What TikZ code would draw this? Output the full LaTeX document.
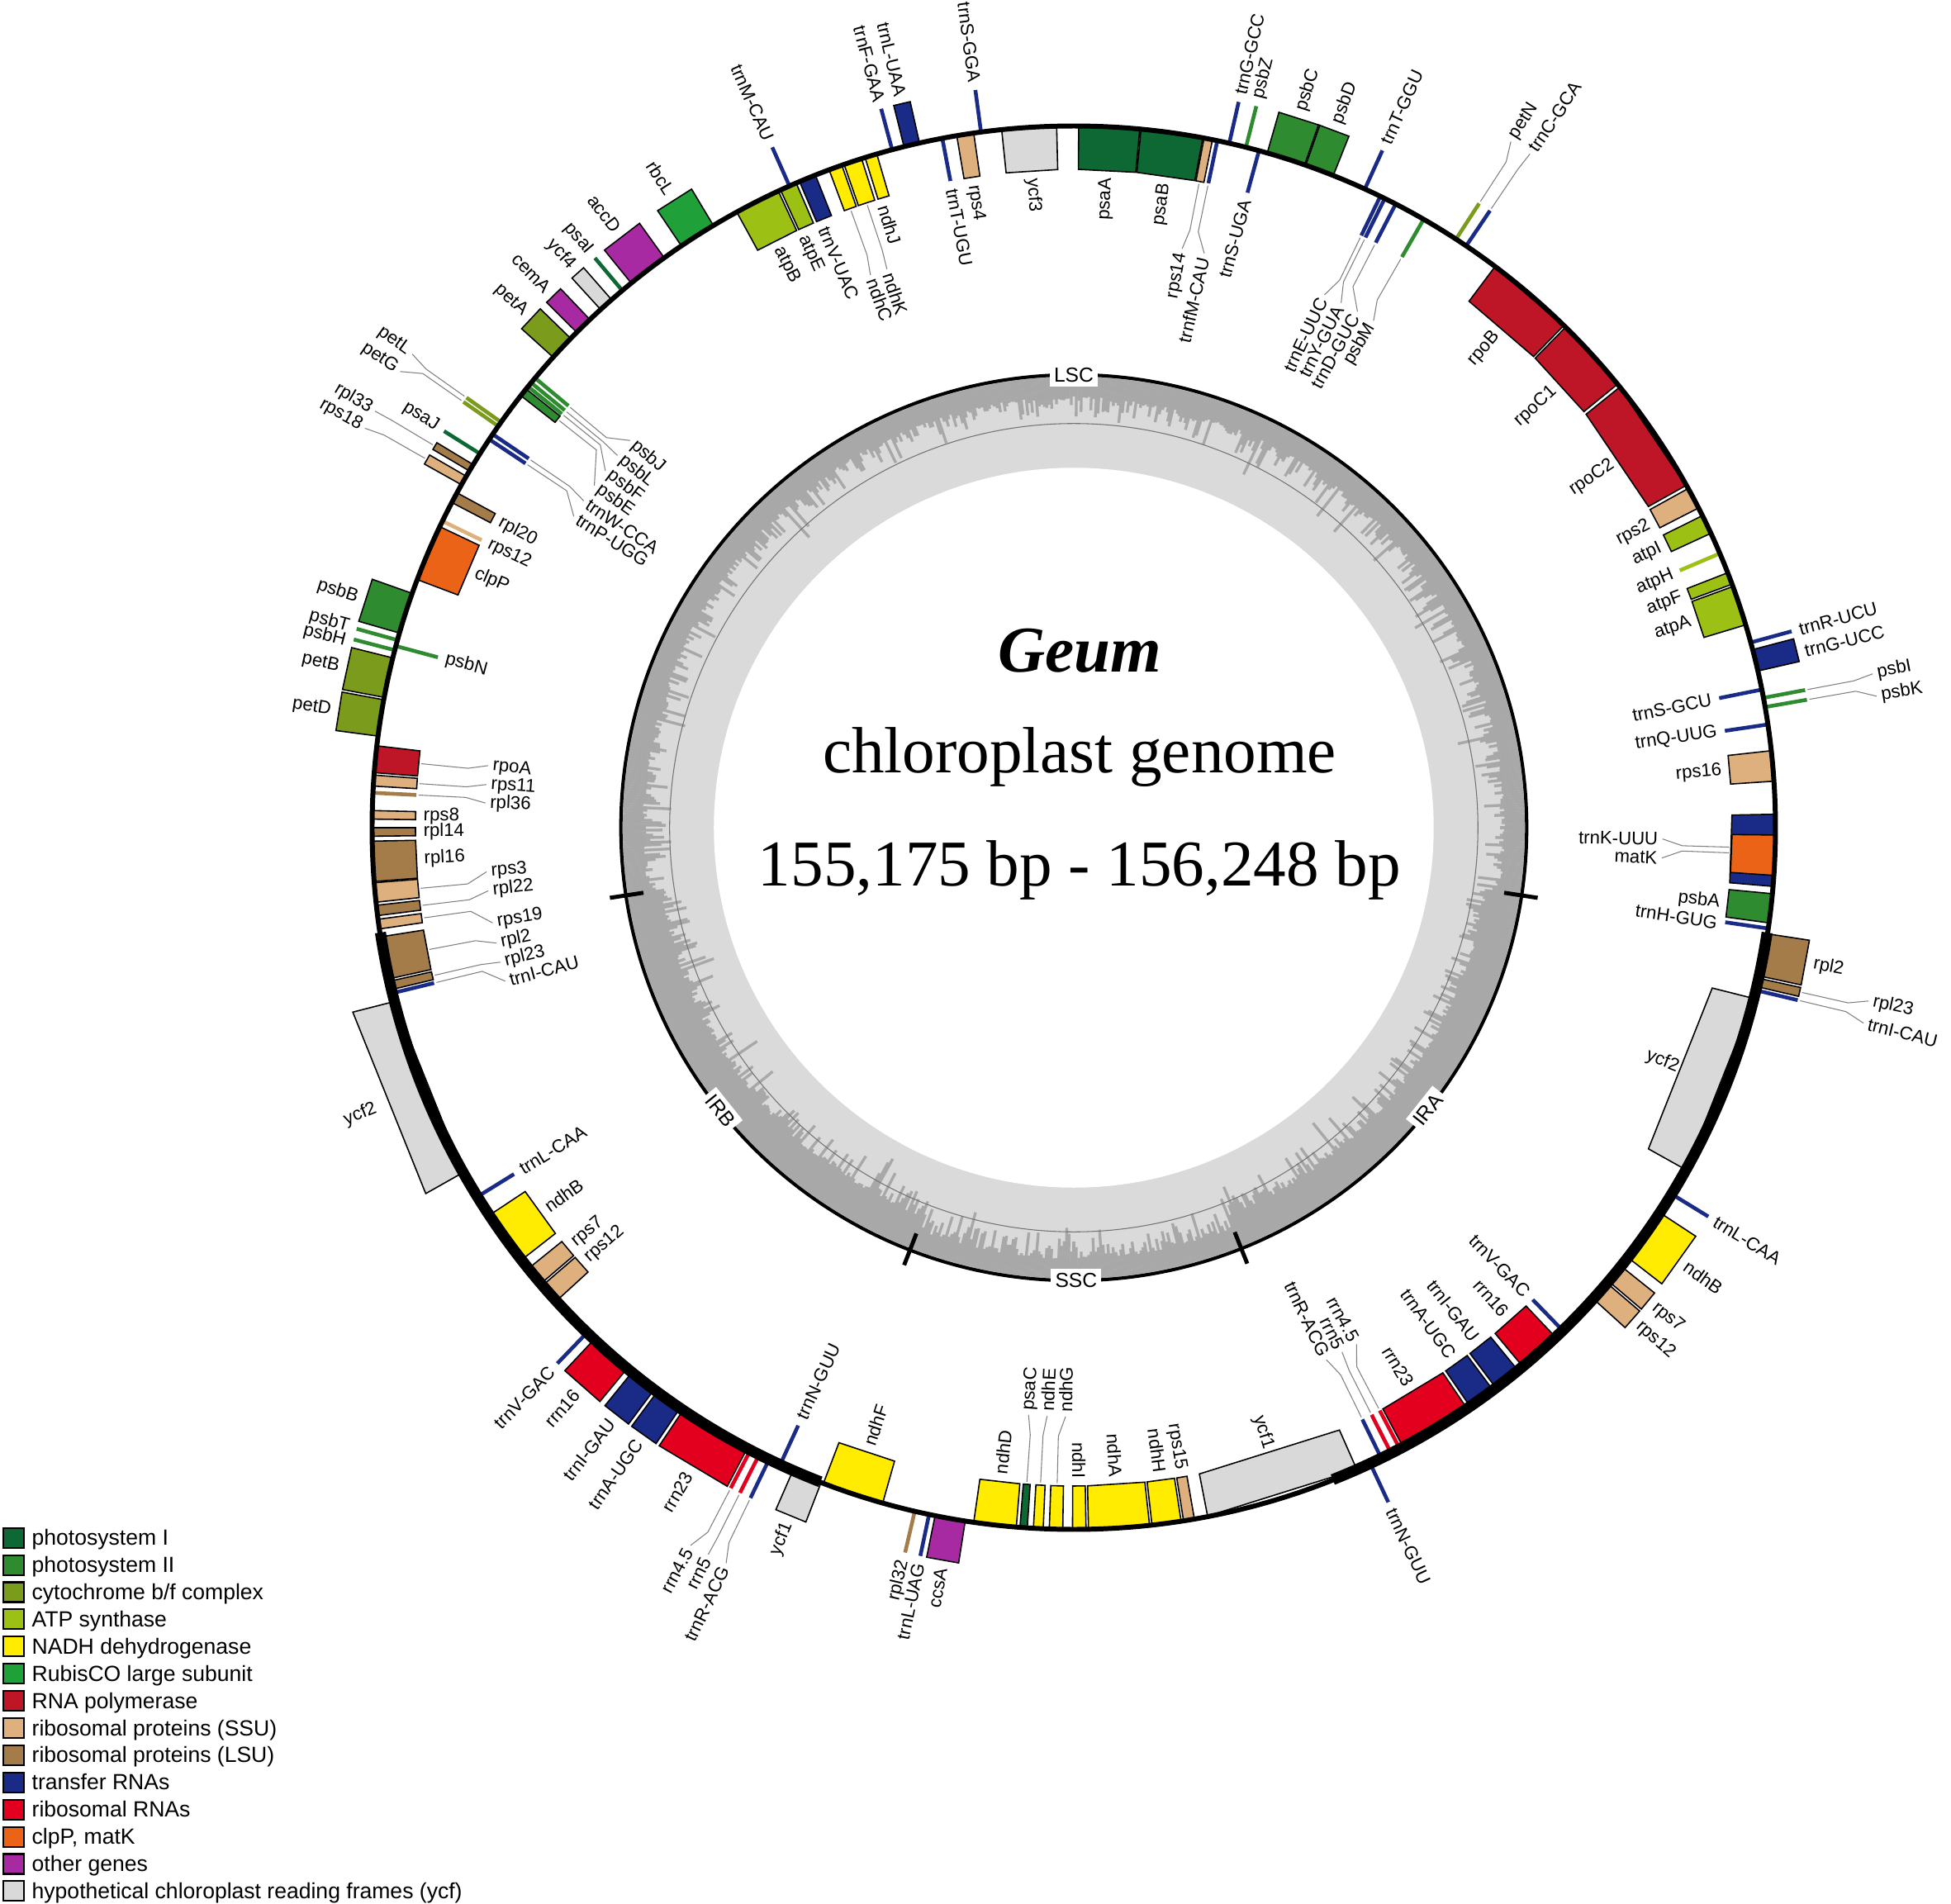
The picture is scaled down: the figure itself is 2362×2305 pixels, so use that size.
\documentclass[tikz,border=0pt]{standalone}
\usepackage{fontspec}
\setmainfont{Liberation Serif}
\setsansfont{Liberation Sans}
\definecolor{psI}{RGB}{14,104,52}
\definecolor{psII}{RGB}{46,139,48}
\definecolor{cyt}{RGB}{122,155,28}
\definecolor{atp}{RGB}{157,192,20}
\definecolor{ndh}{RGB}{255,236,0}
\definecolor{rub}{RGB}{32,160,56}
\definecolor{rpo}{RGB}{190,22,38}
\definecolor{ssu}{RGB}{222,176,126}
\definecolor{lsu}{RGB}{164,124,74}
\definecolor{trna}{RGB}{26,42,135}
\definecolor{rrna}{RGB}{226,0,30}
\definecolor{clp}{RGB}{234,99,22}
\definecolor{oth}{RGB}{168,42,162}
\definecolor{ycf}{RGB}{217,217,217}
\definecolor{gcdark}{RGB}{168,168,168}
\definecolor{gclight}{RGB}{218,218,218}
% gene box: angle1, angle2, side (1 out / -1 in), colour
\newcommand\gbox[4]{\pgfmathsetmacro\gRtwo{849+(#3)*52}%
  \filldraw[genebox,fill=#4] (#1:849) -- (#2:849) -- (#2:\gRtwo) -- (#1:\gRtwo) -- cycle;}
% thin gene: angle, side, colour
\newcommand\gthin[3]{\pgfmathsetmacro\gRtwo{849+(#2)*52}%
  \draw[thinline,#3] (#1:849) -- (#1:\gRtwo);}
% label placement: angle, side, radius, text
\newcommand\placelab[4]{\pgfmathsetmacro\gCos{cos(#1)}%
  \ifdim\gCos pt<-0.0001pt
    \pgfmathsetmacro\gRot{#1+180}\ifnum#2>0 \def\gAnc{east}\else\def\gAnc{west}\fi
  \else
    \pgfmathsetmacro\gRot{#1}\ifnum#2>0 \def\gAnc{west}\else\def\gAnc{east}\fi
  \fi
  \node[lab,rotate=\gRot,anchor=\gAnc] at (#1:#3) {#4};}
% normal label: angle, side, text
\newcommand\glab[3]{\pgfmathsetmacro\gRl{849+(#2)*61}\placelab{#1}{#2}{\gRl}{#3}}
% leader label: gene angle, label angle, side, text
\newcommand\llab[4]{\pgfmathsetmacro\gRa{849+(#3)*55}\pgfmathsetmacro\gRb{849+(#3)*112}%
  \pgfmathsetmacro\gRc{849+(#3)*136}\pgfmathsetmacro\gRl{849+(#3)*141}%
  \draw[leader] (#1:\gRa) -- (#1:\gRb) -- (#2:\gRc);
  \placelab{#2}{#3}{\gRl}{#4}}
% inverted repeat genes (IRA given, IRB mirrored)
\newcommand\irbox[4]{\gbox{#1}{#2}{#3}{#4}\pgfmathsetmacro\gMa{-179.75-(#1)}\pgfmathsetmacro\gMb{-179.75-(#2)}%
  \ifnum#3>0 \gbox{\gMa}{\gMb}{-1}{#4}\else\gbox{\gMa}{\gMb}{1}{#4}\fi}
\newcommand\irthin[3]{\gthin{#1}{#2}{#3}\pgfmathsetmacro\gMa{-179.75-(#1)}%
  \ifnum#2>0 \gthin{\gMa}{-1}{#3}\else\gthin{\gMa}{1}{#3}\fi}
\newcommand\irlab[3]{\glab{#1}{#2}{#3}\pgfmathsetmacro\gMc{-179.75-(#1)}%
  \ifnum#2>0 \glab{\gMc}{-1}{#3}\else\glab{\gMc}{1}{#3}\fi}
\newcommand\legitem[3]{\pgfmathsetmacro\gLy{-859.7-32.9*#1}%
  \filldraw[fill=#2,draw=black,line width=0.6pt] (-1296,\gLy-12) rectangle (-1271,\gLy+12);
  \node[anchor=base west,font=\sffamily\fontsize{7.55}{9}\selectfont,inner sep=0pt] at (-1262,\gLy-9) {#3};}
\begin{document}
\begin{tikzpicture}[x=0.01cm,y=0.01cm,
  genebox/.style={draw=black,line width=0.45pt},
  thinline/.style={line width=1.3pt},
  leader/.style={draw=black!50,line width=0.3pt},
  lab/.style={font=\sffamily\fontsize{6.3}{7}\selectfont,inner sep=0pt},
  reglab/.style={font=\sffamily\fontsize{7}{8}\selectfont,fill=white,inner sep=1.5pt},
  titlefont/.style={font=\fontsize{22.5}{27}\selectfont,anchor=base,inner sep=0pt}]
\useasboundingbox (-1300,-1303) rectangle (1062,1002);
\fill[white] (-1300,-1303) rectangle (1062,1002);
% ---------- GC content ring ----------
\fill[gclight] (0,0) circle[radius=5.48cm];
\fill[white] (0,0) circle[radius=4.355cm];
\pgfmathsetseed{4242}
\foreach \i in {0,...,1079}{%
  \pgfmathsetmacro\gA{\i/3}%
  \pgfmathsetmacro\gIR{or(and(\gA>188.6,\gA<248.8),and(\gA>291.7,\gA<351.4))}%
  \pgfmathsetmacro\gH{24+16*\gIR+36*rnd*rnd+(rnd>0.92)*20}%
  \pgfmathsetmacro\gR{546-\gH}%
  \draw[gcdark,line width=0.95pt] (\gA:546) -- (\gA:\gR);
}
\draw[black!55,line width=0.3pt] (0,0) circle[radius=4.89cm];
\draw[line width=1.15pt] (0,0) circle[radius=5.48cm];
\foreach \t in {188.6,-8.6,-68.3,248.8} \draw[line width=1.4pt] (\t:527) -- (\t:568);
\node[reglab] at (90:548) {LSC};
\node[reglab,rotate=51.5] at (-38.5:548) {IRA};
\node[reglab] at (-89.7:548) {SSC};
\node[reglab,rotate=-51.3] at (218.7:548) {IRB};
% ---------- LSC genes, outer ----------
\gbox{120.9}{124.0}{1}{rub}
\gbox{125.7}{129.1}{1}{oth}
\gthin{130.05}{1}{psI}
\gbox{131.2}{132.4}{1}{ycf}
\gbox{133.6}{135.1}{1}{oth}
\gbox{135.8}{137.9}{1}{cyt}
\gthin{144.7}{1}{cyt}
\gthin{145.1}{1}{cyt}
\gthin{147.8}{1}{psI}
\gbox{148.85}{149.45}{1}{lsu}
\gbox{149.95}{150.75}{1}{ssu}
\gbox{160.5}{163.9}{1}{psII}
\gthin{164.5}{1}{psII}
\gthin{165.35}{1}{psII}
\gbox{166.0}{169.3}{1}{cyt}
\gbox{169.5}{172.5}{1}{cyt}
\gthin{113.9}{1}{trna}
\gthin{105.0}{1}{trna}
\gbox{102.7}{104.0}{1}{trna}
\gthin{97.6}{1}{trna}
\gthin{77.2}{1}{trna}
\gthin{75.8}{1}{psII}
\gbox{70.8}{74.0}{1}{psII}
\gbox{68.3}{70.7}{1}{psII}
\gthin{65.5}{1}{trna}
\gthin{57.0}{1}{cyt}
\gthin{56.0}{1}{trna}
\gthin{15.3}{1}{trna}
\gbox{12.9}{14.7}{1}{trna}
\gthin{10.66}{1}{psII}
\gthin{9.9}{1}{psII}
% ---------- LSC genes, inner ----------
\gbox{113.3}{114.7}{-1}{atp}
\gbox{114.9}{118.7}{-1}{atp}
\gbox{111.6}{113.0}{-1}{trna}
\gbox{109.3}{110.4}{-1}{ndh}
\gbox{107.6}{109.1}{-1}{ndh}
\gbox{106.3}{107.3}{-1}{ndh}
\gthin{100.8}{-1}{trna}
\gbox{98.2}{99.6}{-1}{ssu}
\gbox{91.4}{95.9}{-1}{ycf}
\gbox{84.6}{89.6}{-1}{psI}
\gbox{79.4}{84.5}{-1}{psI}
\gbox{78.6}{79.3}{-1}{ssu}
\gthin{78.2}{-1}{trna}
\gthin{74.7}{-1}{trna}
\gthin{64.1}{-1}{trna}
\gthin{63.7}{-1}{trna}
\gthin{62.7}{-1}{trna}
\gthin{60.1}{-1}{psII}
\gbox{45.7}{53.1}{-1}{rpo}
\gbox{39.2}{45.5}{-1}{rpo}
\gbox{29.2}{38.9}{-1}{rpo}
\gbox{27.1}{28.9}{-1}{ssu}
\gbox{24.8}{26.4}{-1}{atp}
\gthin{23.0}{-1}{atp}
\gbox{20.3}{21.3}{-1}{atp}
\gbox{16.8}{20.1}{-1}{atp}
\gthin{11.35}{-1}{trna}
\gthin{8.46}{-1}{trna}
\gbox{3.8}{6.3}{-1}{ssu}
\gbox{-4.8}{1.1}{-1}{trna}
\gbox{-3.9}{-0.6}{-1}{clp}
\gbox{-7.8}{-5.4}{-1}{psII}
\gthin{-8.26}{-1}{trna}
\gbox{141.3}{142.0}{-1}{psII}
\gthin{141.05}{-1}{psII}
\gthin{140.65}{-1}{psII}
\gthin{140.15}{-1}{psII}
\gthin{145.9}{-1}{trna}
\gthin{146.4}{-1}{trna}
\gbox{151.5}{152.4}{-1}{lsu}
\gthin{154.1}{-1}{ssu}
\gbox{154.6}{159.3}{-1}{clp}
\gthin{165.0}{-1}{psII}
\gbox{173.3}{175.5}{-1}{rpo}
\gbox{175.7}{176.6}{-1}{ssu}
\gthin{177.15}{-1}{lsu}
\gbox{178.6}{179.3}{-1}{ssu}
\gbox{180.0}{180.7}{-1}{lsu}
\gbox{181.1}{184.4}{-1}{lsu}
\gbox{184.5}{186.1}{-1}{ssu}
\gbox{186.35}{187.2}{-1}{lsu}
\gbox{187.5}{188.3}{-1}{ssu}
% ---------- inverted repeats ----------
\irbox{-8.7}{-12.2}{1}{lsu}
\irbox{-12.4}{-13.1}{1}{lsu}
\irthin{-13.4}{1}{trna}
\irbox{-14.1}{-29.2}{-1}{ycf}
\irthin{-31.5}{1}{trna}
\irbox{-33.3}{-37.8}{1}{ndh}
\irbox{-38.7}{-40.3}{1}{ssu}
\irbox{-40.5}{-42.2}{1}{ssu}
\irthin{-45.8}{-1}{trna}
\irbox{-46.6}{-50.2}{-1}{rrna}
\irbox{-50.7}{-53.0}{-1}{trna}
\irbox{-53.3}{-55.6}{-1}{trna}
\irbox{-55.9}{-62.0}{-1}{rrna}
\irthin{-62.3}{-1}{rrna}
\irthin{-63.1}{-1}{rrna}
\irthin{-64.0}{-1}{trna}
\irthin{-65.0}{1}{trna}
% ---------- SSC ----------
\gbox{-66.2}{-79.0}{-1}{ycf}
\gbox{-80.1}{-81.0}{-1}{ssu}
\gbox{-81.2}{-83.6}{-1}{ndh}
\gbox{-83.8}{-88.8}{-1}{ndh}
\gbox{-89.0}{-90.1}{-1}{ndh}
\gbox{-90.9}{-92.0}{-1}{ndh}
\gbox{-92.5}{-93.3}{-1}{ndh}
\gbox{-93.8}{-94.4}{-1}{psI}
\gbox{-94.7}{-98.2}{-1}{ndh}
\gbox{-98.9}{-101.4}{1}{oth}
\gthin{-101.9}{1}{trna}
\gthin{-103.1}{1}{lsu}
\gbox{-105.8}{-110.9}{-1}{ndh}
\gbox{-111.1}{-113.6}{1}{ycf}
% ---------- main circle ----------
\draw[line width=1.7pt] (0,0) circle[radius=8.49cm];
\draw[line width=3.8pt] (-8.6:849) arc[start angle=-8.6,end angle=-68.3,radius=8.49cm];
\draw[line width=3.8pt] (188.6:849) arc[start angle=188.6,end angle=248.8,radius=8.49cm];
% ---------- normal labels, outer ----------
\glab{122.45}{1}{rbcL}
\glab{127.4}{1}{accD}
\glab{130.05}{1}{psaI}
\glab{131.8}{1}{ycf4}
\glab{134.35}{1}{cemA}
\glab{136.85}{1}{petA}
\glab{147.8}{1}{psaJ}
\glab{162.2}{1}{psbB}
\glab{164.5}{1}{psbT}
\glab{165.6}{1}{psbH}
\glab{167.65}{1}{petB}
\glab{171.0}{1}{petD}
\glab{113.9}{1}{trnM-CAU}
\glab{105.0}{1}{trnF-GAA}
\glab{103.35}{1}{trnL-UAA}
\glab{97.6}{1}{trnS-GGA}
\glab{77.2}{1}{trnG-GCC}
\glab{75.8}{1}{psbZ}
\glab{72.4}{1}{psbC}
\glab{69.5}{1}{psbD}
\glab{65.5}{1}{trnT-GGU}
\glab{15.3}{1}{trnR-UCU}
\glab{13.6}{1}{trnG-UCC}
\glab{-100.15}{1}{ccsA}
\glab{-101.9}{1}{trnL-UAG}
\glab{-103.1}{1}{rpl32}
\glab{-112.35}{1}{ycf1}
% ---------- normal labels, inner ----------
\glab{117.0}{-1}{atpB}
\glab{114.6}{-1}{atpE}
\glab{112.6}{-1}{trnV-UAC}
\glab{107.0}{-1}{ndhJ}
\glab{100.8}{-1}{trnT-UGU}
\glab{98.9}{-1}{rps4}
\glab{93.65}{-1}{ycf3}
\glab{87.1}{-1}{psaA}
\glab{81.95}{-1}{psaB}
\glab{74.7}{-1}{trnS-UGA}
\glab{49.4}{-1}{rpoB}
\glab{42.35}{-1}{rpoC1}
\glab{34.05}{-1}{rpoC2}
\glab{27.8}{-1}{rps2}
\glab{25.5}{-1}{atpI}
\glab{22.9}{-1}{atpH}
\glab{20.8}{-1}{atpF}
\glab{18.45}{-1}{atpA}
\glab{11.35}{-1}{trnS-GCU}
\glab{8.46}{-1}{trnQ-UUG}
\glab{5.05}{-1}{rps16}
\glab{-6.6}{-1}{psbA}
\glab{-8.4}{-1}{trnH-GUG}
\glab{151.95}{-1}{rpl20}
\glab{154.1}{-1}{rps12}
\glab{156.95}{-1}{clpP}
\glab{165.0}{-1}{psbN}
\glab{178.95}{-1}{rps8}
\glab{180.35}{-1}{rpl14}
\glab{182.75}{-1}{rpl16}
\glab{-72.6}{-1}{ycf1}
\glab{-80.55}{-1}{rps15}
\glab{-82.4}{-1}{ndhH}
\glab{-86.3}{-1}{ndhA}
\glab{-89.55}{-1}{ndhI}
\glab{-96.45}{-1}{ndhD}
\glab{-108.35}{-1}{ndhF}
% ---------- IR labels ----------
\glab{-10.45}{1}{rpl2}
\irlab{-21.65}{-1}{ycf2}
\irlab{-31.5}{1}{trnL-CAA}
\irlab{-35.55}{1}{ndhB}
\irlab{-39.5}{1}{rps7}
\irlab{-41.35}{1}{rps12}
\irlab{-45.8}{-1}{trnV-GAC}
\irlab{-48.4}{-1}{rrn16}
\irlab{-51.85}{-1}{trnI-GAU}
\irlab{-54.45}{-1}{trnA-UGC}
\irlab{-58.95}{-1}{rrn23}
\irlab{-65.0}{1}{trnN-GUU}
% ---------- leader labels, outer ----------
\llab{57.0}{57.5}{1}{petN}
\llab{56.0}{55.9}{1}{trnC-GCA}
\llab{10.66}{10.9}{1}{psbI}
\llab{9.9}{9.3}{1}{psbK}
\llab{-12.75}{-12.3}{1}{rpl23}
\llab{-13.4}{-13.9}{1}{trnI-CAU}
\llab{144.7}{144.4}{1}{petL}
\llab{145.1}{145.9}{1}{petG}
\llab{149.15}{149.2}{1}{rpl33}
\llab{150.35}{150.6}{1}{rps18}
\llab{-117.45}{-118.1}{1}{rrn4.5}
\llab{-116.65}{-116.7}{1}{rrn5}
\llab{-115.75}{-115.3}{1}{trnR-ACG}
% ---------- leader labels, inner ----------
\llab{79.0}{79.4}{-1}{rps14}
\llab{78.2}{77.2}{-1}{trnfM-CAU}
\llab{64.1}{64.8}{-1}{trnE-UUC}
\llab{63.7}{63.0}{-1}{trnY-GUA}
\llab{62.7}{61.2}{-1}{trnD-GUC}
\llab{60.1}{59.4}{-1}{psbM}
\llab{-1.7}{-1.1}{-1}{trnK-UUU}
\llab{-2.2}{-2.95}{-1}{matK}
\llab{-62.3}{-61.3}{-1}{rrn4.5}
\llab{-63.1}{-62.9}{-1}{rrn5}
\llab{-64.0}{-64.6}{-1}{trnR-ACG}
\llab{-91.45}{-90.8}{-1}{ndhG}
\llab{-92.9}{-92.6}{-1}{ndhE}
\llab{-94.1}{-94.4}{-1}{psaC}
\llab{108.35}{108.5}{-1}{ndhK}
\llab{109.85}{110.2}{-1}{ndhC}
\llab{140.15}{138.9}{-1}{psbJ}
\llab{140.65}{140.8}{-1}{psbL}
\llab{141.05}{142.7}{-1}{psbF}
\llab{141.65}{144.5}{-1}{psbE}
\llab{145.9}{146.3}{-1}{trnW-CCA}
\llab{146.4}{148.1}{-1}{trnP-UGG}
\llab{174.4}{173.95}{-1}{rpoA}
\llab{176.15}{175.8}{-1}{rps11}
\llab{177.15}{177.6}{-1}{rpl36}
\llab{185.3}{184.3}{-1}{rps3}
\llab{186.8}{186.15}{-1}{rpl22}
\llab{187.9}{189.3}{-1}{rps19}
\llab{190.7}{191.3}{-1}{rpl2}
\llab{193.0}{193.2}{-1}{rpl23}
\llab{193.65}{195.1}{-1}{trnI-CAU}
% ---------- title ----------
\node[titlefont,font=\fontsize{22.5}{27}\selectfont\bfseries\itshape] at (7,189) {Geum};
\node[titlefont] at (7,67) {chloroplast genome};
\node[titlefont] at (7,-70) {155,175 bp - 156,248 bp};
% ---------- legend ----------
\legitem{0}{psI}{photosystem I}
\legitem{1}{psII}{photosystem II}
\legitem{2}{cyt}{cytochrome b/f complex}
\legitem{3}{atp}{ATP synthase}
\legitem{4}{ndh}{NADH dehydrogenase}
\legitem{5}{rub}{RubisCO large subunit}
\legitem{6}{rpo}{RNA polymerase}
\legitem{7}{ssu}{ribosomal proteins (SSU)}
\legitem{8}{lsu}{ribosomal proteins (LSU)}
\legitem{9}{trna}{transfer RNAs}
\legitem{10}{rrna}{ribosomal RNAs}
\legitem{11}{clp}{clpP, matK}
\legitem{12}{oth}{other genes}
\legitem{13}{ycf}{hypothetical chloroplast reading frames (ycf)}
\end{tikzpicture}
\end{document}
